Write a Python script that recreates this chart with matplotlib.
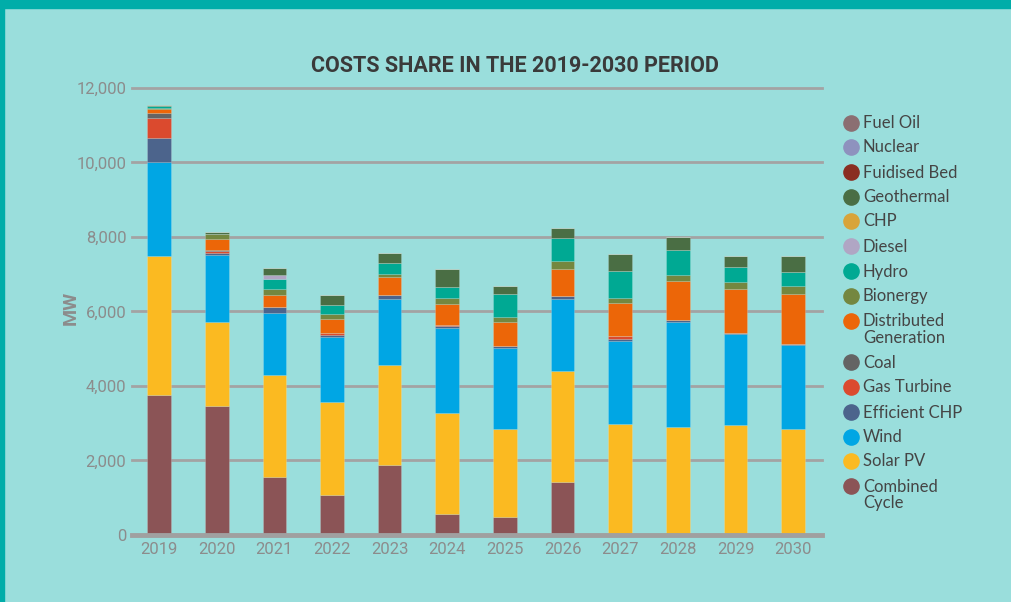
import numpy as np
import matplotlib.pyplot as plt
from matplotlib.patches import Rectangle

years = ["2019", "2020", "2021", "2022", "2023", "2024", "2025", "2026", "2027", "2028", "2029", "2030"]

# MW per technology (stacked bottom -> top)
combined_cycle = [3770, 3470, 1560, 1065, 1870, 560, 490, 1430, 0, 0, 0, 0]
solar_pv = [3720, 2250, 2745, 2510, 2695, 2710, 2350, 2975, 2975, 2895, 2940, 2840]
wind = [2510, 1795, 1645, 1740, 1780, 2280, 2180, 1940, 2220, 2825, 2450, 2255]
efficient_chp = [650, 60, 160, 55, 95, 70, 55, 70, 60, 55, 20, 25]
gas_turbine = [540, 60, 0, 40, 0, 20, 0, 0, 100, 0, 0, 0]
coal = [135, 20, 0, 0, 0, 0, 0, 0, 0, 0, 0, 0]
distributed = [115, 295, 330, 375, 475, 570, 640, 725, 860, 1045, 1205, 1360]
bionergy = [25, 135, 160, 150, 100, 160, 125, 205, 160, 160, 170, 205]
hydro = [45, 0, 270, 250, 295, 275, 635, 615, 705, 680, 400, 365]
diesel = [0, 0, 105, 0, 0, 0, 0, 0, 0, 0, 0, 0]
chp = [0, 0, 0, 0, 0, 0, 0, 0, 0, 0, 0, 0]
geothermal = [35, 40, 205, 270, 270, 500, 205, 270, 475, 340, 295, 430]
fuidised_bed = [0] * 12
nuclear = [0] * 12
fuel_oil = [0] * 12

series = [
    ("Combined\nCycle", combined_cycle, "#8B5456"),
    ("Solar PV", solar_pv, "#FBBA21"),
    ("Wind", wind, "#00A6E4"),
    ("Efficient CHP", efficient_chp, "#4C648C"),
    ("Gas Turbine", gas_turbine, "#DB4A2E"),
    ("Coal", coal, "#646464"),
    ("Distributed\nGeneration", distributed, "#EC6608"),
    ("Bionergy", bionergy, "#748740"),
    ("Hydro", hydro, "#00A993"),
    ("Diesel", diesel, "#B0A6C4"),
    ("CHP", chp, "#D8A43A"),
    ("Geothermal", geothermal, "#4A6E44"),
    ("Fuidised Bed", fuidised_bed, "#8A2E22"),
    ("Nuclear", nuclear, "#8E92BE"),
    ("Fuel Oil", fuel_oil, "#8B6F72"),
]

bg = "#9ADEDC"
grey = "#8C8C8C"
cond = ["Roboto", "DejaVu Sans"]

fig = plt.figure(figsize=(10.11, 6.02), dpi=100)
fig.patch.set_facecolor(bg)

# teal frame (top and left edges)
fig.add_artist(Rectangle((0, 1 - 8 / 602), 1, 8 / 602, transform=fig.transFigure, color="#00ADA9", zorder=0))
fig.add_artist(Rectangle((0, 0), 4 / 1011, 1, transform=fig.transFigure, color="#00ADA9", zorder=0))

ax = fig.add_axes([132 / 1011, 67 / 602, 690 / 1011, 454.5 / 602])
ax.set_facecolor(bg)

x = np.arange(len(years))
bottom = np.zeros(len(years))
for name, vals, col in series:
    vals = np.array(vals, dtype=float)
    ax.bar(x, vals, 0.41, bottom=bottom, color=col, edgecolor=(1, 1, 1, 0.18), linewidth=0.6, zorder=3)
    bottom += vals

ax.set_xlim(-0.47, 11.5)
ax.set_ylim(0, 12200)
ax.set_yticks([0, 2000, 4000, 6000, 8000, 10000, 12000])
ax.set_yticklabels(["0", "2,000", "4,000", "6,000", "8,000", "10,000", "12,000"])
ax.set_xticks(x)
ax.set_xticklabels(years)
for t in ax.get_xticklabels() + ax.get_yticklabels():
    t.set_family(cond)
    t.set_fontsize(12)
    t.set_color(grey)
ax.tick_params(length=0)
ax.tick_params(axis="x", pad=5)
ax.tick_params(axis="y", pad=4)

for v in [2000, 4000, 6000, 8000, 10000, 12000]:
    ax.axhline(v, color="#A3A3A3", linewidth=2, zorder=1, clip_on=False)
ax.axhline(0, color="#A0A0A0", linewidth=3.5, zorder=4, clip_on=False)

for s in ax.spines.values():
    s.set_visible(False)

ax.set_ylabel("MW", fontsize=14, fontweight="bold", color=grey, family=cond)
ax.yaxis.set_label_coords(-0.076, 0.5)

fig.text(515 / 1011, 1 - 66 / 602, "COSTS SHARE IN THE 2019-2030 PERIOD", ha="center", va="center",
         fontsize=15.5, fontweight="bold", color="#3A3A3A", family=cond)

# legend, drawn by hand in pixel coordinates
lg = fig.add_axes([0, 0, 1, 1])
lg.set_xlim(0, 1011)
lg.set_ylim(602, 0)
lg.axis("off")
ys = [123, 147, 172, 197, 221, 246, 271, 296, 321, 362, 387, 412, 437, 461, 486]
for (name, vals, col), yy in zip(series[::-1], ys):
    lg.scatter(851, yy, s=120, color=col, zorder=3)
    lg.text(863, yy - 7.5, name, fontsize=12, color="#454545", family=["Lato", "DejaVu Sans"],
            va="top", ha="left", linespacing=1.05)

plt.savefig("out.png", dpi=100, facecolor=bg)
